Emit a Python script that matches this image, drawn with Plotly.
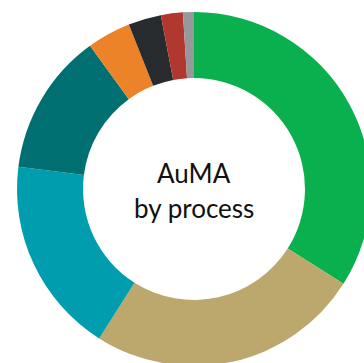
import plotly.graph_objects as go

# Share of AuMA by investment process (percent), clockwise from 12 o'clock
categories = ["Process 1", "Process 2", "Process 3", "Process 4",
              "Process 5", "Process 6", "Process 7", "Process 8"]
shares = [34, 25, 18, 13, 4, 3, 2, 1]
slice_colors = ["#0BB04E", "#BCA86C", "#009DAE", "#006F72",
                "#EC8328", "#272B2E", "#B0382F", "#97989B"]

fig = go.Figure(
    go.Pie(
        labels=categories,
        values=shares,
        sort=False,
        direction="clockwise",
        rotation=0,
        hole=0.627,
        textinfo="none",
        hoverinfo="label+percent",
        marker=dict(colors=slice_colors, line=dict(width=0)),
        showlegend=False,
    )
)

title_font = dict(family="Lato, 'Open Sans', sans-serif", size=26, color="#111111")
fig.add_annotation(text="AuMA", x=0.5, y=0.5, xref="paper", yref="paper",
                   showarrow=False, yshift=16, font=title_font)
fig.add_annotation(text="by process", x=0.5, y=0.5, xref="paper", yref="paper",
                   showarrow=False, yshift=-19, font=title_font)

# The ring is larger than the visible window, so it runs off the right and bottom edges
fig.update_layout(
    width=380,
    height=380,
    margin=dict(l=17, r=9, t=12, b=14, pad=0),
    paper_bgcolor="white",
    plot_bgcolor="white",
)

fig.write_html(
    "out.html",
    config={"displayModeBar": False},
    post_script="document.body.style.margin='0';document.body.style.overflow='hidden';",
)
